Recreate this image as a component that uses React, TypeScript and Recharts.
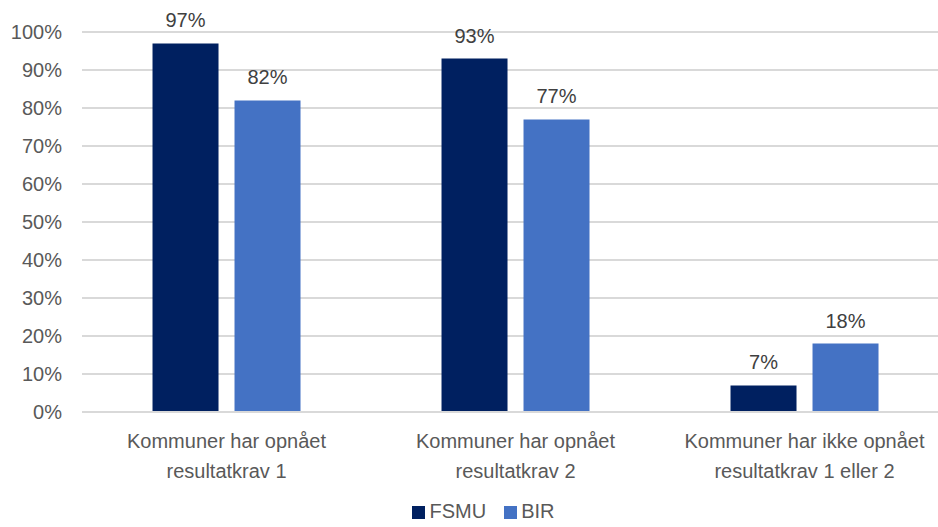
import { Bar, BarChart, CartesianGrid, LabelList, Legend, XAxis, YAxis } from "recharts";

const categories = [
  "Kommuner har opnået\nresultatkrav 1",
  "Kommuner har opnået\nresultatkrav 2",
  "Kommuner har ikke opnået\nresultatkrav 1 eller 2",
];
const fsmu = [97, 93, 7];
const bir = [82, 77, 18];
const yTicks = [0, 10, 20, 30, 40, 50, 60, 70, 80, 90, 100];
const seriesOrder = ["FSMU", "BIR"];

const data = categories.map((name, i) => ({ name, FSMU: fsmu[i], BIR: bir[i] }));

const FONT = "'Liberation Sans', Arial, sans-serif";
const TEXT = "#595959";

function CategoryTick({ x, y, payload }: any) {
  const lines = String(payload.value).split("\n");
  return (
    <text x={x} y={y} textAnchor="middle" fill={TEXT} fontSize={20} fontFamily={FONT}>
      {lines.map((l, i) => (
        <tspan key={i} x={x} dy={i === 0 ? 28 : 30}>
          {l}
        </tspan>
      ))}
    </text>
  );
}

export default function App() {
  return (
    <div
      style={{
        position: "fixed",
        left: 0,
        top: 0,
        width: 938,
        height: 527,
        overflow: "hidden",
        background: "#fff",
      }}
    >
      <BarChart
        width={952}
        height={527}
        data={data}
        margin={{ top: 32, right: 3, left: 0, bottom: 55 }}
        barCategoryGap="24.4%"
        barGap={16}
      >
        <CartesianGrid vertical={false} stroke="#d9d9d9" strokeWidth={2} />
        <XAxis
          dataKey="name"
          axisLine={{ stroke: "#d9d9d9", strokeWidth: 2 }}
          tickLine={false}
          height={60}
          interval={0}
          tick={<CategoryTick />}
        />
        <YAxis
          domain={[0, 100]}
          ticks={yTicks}
          interval={0}
          width={82}
          axisLine={false}
          tickLine={false}
          tickSize={0}
          tickMargin={20}
          tickFormatter={(v) => `${v}%`}
          tick={{ fill: TEXT, fontSize: 20, fontFamily: FONT }}
        />
        <Legend
          verticalAlign="middle"
          align="center"
          iconType="square"
          iconSize={13}
          itemSorter={(item: any) => seriesOrder.indexOf(item.dataKey)}
          wrapperStyle={{ top: 500, left: 0, width: 985, fontFamily: FONT, fontSize: 20, lineHeight: "22px" }}
          formatter={(v) => <span style={{ color: TEXT, marginRight: 8 }}>{v}</span>}
        />
        <Bar dataKey="FSMU" fill="#002060" isAnimationActive={false}>
          <LabelList
            dataKey="FSMU"
            position="top"
            offset={16}
            formatter={(v: any) => `${v}%`}
            style={{ fill: "#404040", fontSize: 20, fontFamily: FONT }}
          />
        </Bar>
        <Bar dataKey="BIR" fill="#4472c4" isAnimationActive={false}>
          <LabelList
            dataKey="BIR"
            position="top"
            offset={16}
            formatter={(v: any) => `${v}%`}
            style={{ fill: "#404040", fontSize: 20, fontFamily: FONT }}
          />
        </Bar>
      </BarChart>
    </div>
  );
}
